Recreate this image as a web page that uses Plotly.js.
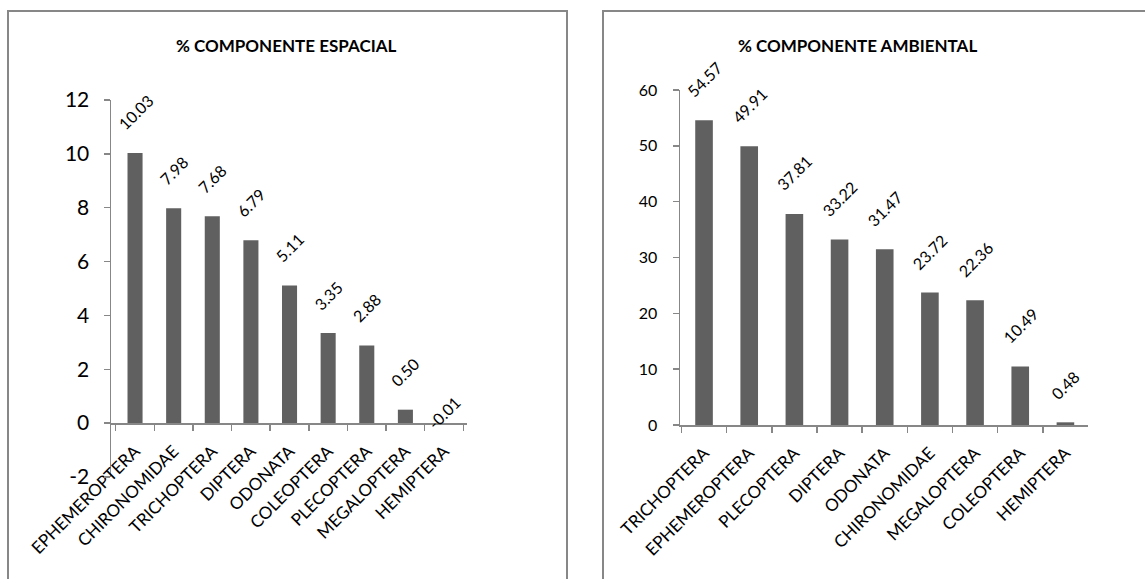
<!DOCTYPE html>
<html>
<head>
<meta charset="utf-8">
<script src="https://cdn.plot.ly/plotly-3.0.1.min.js"></script>
<style>
  html, body { margin: 0; padding: 0; background: #ffffff; }
  #chart { width: 1145px; height: 579px; }
</style>
</head>
<body>
<div id="chart"></div>
<script>
// Spatial component (%) by taxon
var catEsp = ['EPHEMEROPTERA', 'CHIRONOMIDAE', 'TRICHOPTERA', 'DIPTERA', 'ODONATA',
              'COLEOPTERA', 'PLECOPTERA', 'MEGALOPTERA', 'HEMIPTERA'];
var valEsp = [10.03, 7.98, 7.68, 6.79, 5.11, 3.35, 2.88, 0.50, -0.01];
var ticksEsp = [-2, 0, 2, 4, 6, 8, 10, 12];

// Environmental component (%) by taxon
var catAmb = ['TRICHOPTERA', 'EPHEMEROPTERA', 'PLECOPTERA', 'DIPTERA', 'ODONATA',
              'CHIRONOMIDAE', 'MEGALOPTERA', 'COLEOPTERA', 'HEMIPTERA'];
var valAmb = [54.57, 49.91, 37.81, 33.22, 31.47, 23.72, 22.36, 10.49, 0.48];
var ticksAmb = [0, 10, 20, 30, 40, 50, 60];

var titleEsp = '% COMPONENTE ESPACIAL';
var titleAmb = '% COMPONENTE AMBIENTAL';

var W = 1145, H = 579;
var FONT = 'Lato, "Open Sans", sans-serif';
var BAR = '#606060';
var AXIS = '#878787';

function px(x) { return x / W; }
function py(y) { return 1 - y / H; }

var rangeEsp = [-2, 12];
var rangeAmb = [0, 60];
var domY1 = [py(477), py(100)];
var domY2 = [py(425), py(90)];
// x axis of the first panel sits on the y = 0 line
var zeroPos1 = domY1[0] + (0 - rangeEsp[0]) / (rangeEsp[1] - rangeEsp[0]) * (domY1[1] - domY1[0]);

var traces = [
  { type: 'bar', x: catEsp, y: valEsp, xaxis: 'x', yaxis: 'y',
    marker: { color: BAR }, hoverinfo: 'x+y' },
  { type: 'bar', x: catAmb, y: valAmb, xaxis: 'x2', yaxis: 'y2',
    marker: { color: BAR }, hoverinfo: 'x+y' }
];

function valueLabels(cats, vals, xr, yr, size) {
  return vals.map(function (v, i) {
    var neg = v < 0;
    return {
      xref: xr, yref: yr, x: cats[i], y: v,
      text: v.toFixed(2), showarrow: false, textangle: -45,
      xanchor: 'center', yanchor: neg ? 'middle' : 'bottom',
      yshift: neg ? 11 : 17,
      font: { family: FONT, size: size, color: '#000000' }
    };
  });
}

var annotations = []
  .concat(valueLabels(catEsp, valEsp, 'x', 'y', 16))
  .concat(valueLabels(catAmb, valAmb, 'x2', 'y2', 16))
  .concat([
    { xref: 'paper', yref: 'paper', x: px(286), y: py(45), text: '<b>' + titleEsp + '</b>',
      showarrow: false, xanchor: 'center', yanchor: 'middle',
      font: { family: FONT, size: 17, color: '#000000' } },
    { xref: 'paper', yref: 'paper', x: px(858), y: py(45), text: '<b>' + titleAmb + '</b>',
      showarrow: false, xanchor: 'center', yanchor: 'middle',
      font: { family: FONT, size: 17, color: '#000000' } }
  ]);

var frameLine = { color: AXIS, width: 2 };
var shapes = [
  { type: 'rect', xref: 'paper', yref: 'paper', x0: px(8), x1: px(567), y0: -0.1, y1: py(11), line: frameLine },
  { type: 'rect', xref: 'paper', yref: 'paper', x0: px(603), x1: 1.1, y0: -0.1, y1: py(11), line: frameLine }
];

var xCommon = {
  type: 'category', showgrid: false, zeroline: false, showline: true,
  linecolor: AXIS, linewidth: 1.5, ticks: 'outside', tickson: 'boundaries',
  ticklen: 6, tickcolor: AXIS, tickwidth: 1.5, tickangle: -45,
  ticklabelstandoff: 10, fixedrange: true
};

var layout = {
  width: W, height: H,
  margin: { l: 0, r: 0, t: 0, b: 0, pad: 0 },
  paper_bgcolor: '#ffffff', plot_bgcolor: '#ffffff',
  showlegend: false, bargap: 0.61,
  font: { family: FONT, color: '#000000' },
  xaxis: Object.assign({}, xCommon, {
    domain: [px(111), px(467)], anchor: 'free', position: zeroPos1,
    tickfont: { family: FONT, size: 17, color: '#000000' }
  }),
  yaxis: {
    domain: domY1, range: rangeEsp, anchor: 'x',
    tickvals: ticksEsp, ticktext: ticksEsp.map(String),
    showgrid: false, zeroline: false, showline: true, linecolor: AXIS, linewidth: 1.5,
    ticks: 'outside', ticklen: 6, tickcolor: AXIS, tickwidth: 1.5, ticklabelstandoff: 10,
    tickfont: { family: FONT, size: 21, color: '#000000' }, fixedrange: true
  },
  xaxis2: Object.assign({}, xCommon, {
    domain: [px(680), px(1088)], anchor: 'y2',
    tickfont: { family: FONT, size: 17, color: '#000000' }
  }),
  yaxis2: {
    domain: domY2, range: rangeAmb, anchor: 'x2',
    tickvals: ticksAmb,
    showgrid: false, zeroline: false, showline: true, linecolor: AXIS, linewidth: 1.5,
    ticks: 'outside', ticklen: 6, tickcolor: AXIS, tickwidth: 1.5, ticklabelstandoff: 12,
    tickfont: { family: FONT, size: 16, color: '#000000' }, fixedrange: true
  },
  annotations: annotations,
  shapes: shapes
};

Plotly.newPlot('chart', traces, layout, { displayModeBar: false, staticPlot: true });
</script>
</body>
</html>
